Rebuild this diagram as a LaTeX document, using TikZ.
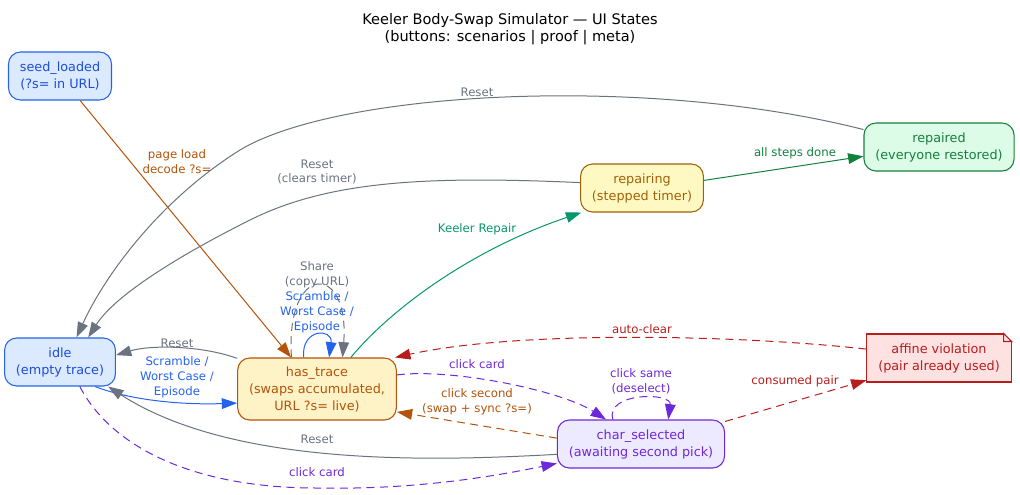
\documentclass[tikz,border=0pt]{standalone}
\usepackage{fontspec}
\setmainfont{DejaVu Sans}
\usepackage{xcolor}
\usetikzlibrary{positioning,arrows.meta,calc}

\definecolor{bluD}{HTML}{1D4ED8}
\definecolor{bluE}{HTML}{2563EB}
\definecolor{bluF}{HTML}{DBEAFE}
\definecolor{ambD}{HTML}{B45309}
\definecolor{ambF}{HTML}{FEF3C7}
\definecolor{yelD}{HTML}{A16207}
\definecolor{yelF}{HTML}{FEF9C3}
\definecolor{grnD}{HTML}{15803D}
\definecolor{grnF}{HTML}{DCFCE7}
\definecolor{emrE}{HTML}{059669}
\definecolor{redD}{HTML}{B91C1C}
\definecolor{redF}{HTML}{FEE2E2}
\definecolor{purD}{HTML}{6D28D9}
\definecolor{purF}{HTML}{EDE9FE}
\definecolor{gryE}{HTML}{6B7280}

\newcommand{\stfont}{\fontsize{9.6}{12.75}\selectfont}
\newcommand{\lbfont}{\fontsize{8.8}{11.2}\selectfont}
\newcommand{\hdfont}{\fontsize{10.9}{13.1}\selectfont}

\begin{document}
\begin{tikzpicture}[
  x=0.75pt, y=-0.75pt,
  every node/.style={font=\stfont},
  st/.style={draw, rounded corners=9pt, line width=0.8pt, align=center,
             inner xsep=8.5pt, inner ysep=4pt, minimum height=36pt},
  stblue/.style={st, draw=bluE, fill=bluF, text=bluD},
  stamb/.style={st, draw=ambD, fill=ambF, text=ambD},
  styel/.style={st, draw=yelD, fill=yelF, text=yelD},
  stgrn/.style={st, draw=grnD, fill=grnF, text=grnD},
  stpur/.style={st, draw=purD, fill=purF, text=purD},
  note/.style={draw=redD, fill=redF, text=redD, line width=0.8pt,
               align=center, inner xsep=8.5pt, minimum height=36pt},
  hdr/.style={font=\hdfont, align=center},
  lab/.style={font=\lbfont, align=center, inner sep=0pt},
  arr/.style={-{Triangle[length=11.5pt,width=8pt]}, line width=0.75pt},
  dsh/.style={dash pattern=on 6pt off 4pt}
]
\useasboundingbox (0,0) rectangle (1020,494);
\node[hdr] (title) at (510,29)
  {Keeler Body-Swap Simulator — UI States\\(buttons: scenarios | proof | meta)};
\node[stblue] (seed)  at (60,76)   {seed\_loaded\\(?s= in URL)};
\node[stblue] (idle)  at (60,362)  {idle\\(empty trace)};
\node[stamb, minimum height=46.5pt] (trace) at (317,389)
  {has\_trace\\(swaps accumulated,\\URL ?s= live)};
\node[styel]  (rpg)   at (642,188) {repairing\\(stepped timer)};
\node[stgrn]  (rpd)   at (939,147) {repaired\\(everyone restored)};
\node[note]   (aff)   at (939,358) {affine violation\\(pair already used)};
\node[stpur]  (sel)   at (641,444) {char\_selected\\(awaiting second pick)};
% folded corner of the note
\fill[white] ([xshift=-6pt,yshift=0.6pt]aff.north east)
  -- ([xshift=0.6pt,yshift=0.6pt]aff.north east)
  -- ([xshift=0.6pt,yshift=-6pt]aff.north east) -- cycle;
\draw[redD, line width=0.8pt] ([xshift=-6pt]aff.north east)
  -- ([yshift=-6pt]aff.north east)
  -- ([xshift=-6pt,yshift=-6pt]aff.north east) -- cycle;
% edges
\draw[arr, ambD] (seed) -- (trace);
\node[lab, text=ambD] (lpage) at (177,162) {page load\\decode ?s=};
\draw[arr, gryE] (rpd.167) .. controls (650,75) and (340,90) .. (240,150)
  .. controls (160,200) and (105,275) .. (idle.56);
\node[lab, text=gryE] (lreset1) at (477,92) {Reset};
\draw[arr, gryE] (rpg.175) .. controls (430,176) and (330,180) .. (250,220)
  .. controls (180,255) and (115,295) .. (idle.41);
\node[lab, text=gryE] (lreset2) at (317,172) {Reset\\(clears timer)};
\draw[arr, emrE] (trace.43) .. controls (390,310) and (470,250) .. (rpg.202);
\node[lab, text=emrE] (lkeel) at (477,229) {Keeler Repair};
\draw[arr, grnD] (rpg.7) -- (rpd.187);
\node[lab, text=grnD] (ldone) at (795,153) {all steps done};
\draw[arr, gryE] (trace.159) .. controls (200,345) and (150,345) .. (idle.7);
\node[lab, text=gryE] (lreset3) at (177,343) {Reset};
\draw[arr, bluE] (idle.-35) .. controls (130,400) and (180,405) .. (trace.190);
\node[lab, text=bluE] (lscr1) at (177,377) {Scramble /\\Worst Case /\\Episode};
\draw[arr, gryE, dsh] (trace.129) .. controls (285,262) and (350,262) .. (trace.51);
\node[lab, text=gryE] (lshare) at (317,275) {Share\\(copy URL)};
\draw[arr, bluE] (trace.113) .. controls (301,328) and (333,328) .. (trace.69);
\node[lab, text=bluE] (lscr2) at (317,312) {Scramble /\\Worst Case /\\Episode};
\draw[arr, purD, dsh] (trace.10) .. controls (450,368) and (560,390) .. (sel.145);
\node[lab, text=purD] (lcard1) at (477,364) {click card};
\draw[arr, ambD, dsh] (sel.176) -- (trace.-16);
\node[lab, text=ambD] (lsecond) at (477,402) {click second\\(swap + sync ?s=)};
\draw[arr, gryE] (sel.187) .. controls (420,462) and (230,465) .. (idle.-27);
\node[lab, text=gryE] (lreset4) at (317,439) {Reset};
\draw[arr, purD, dsh] (idle.-51) .. controls (110,445) and (190,488) .. (317,488)
  .. controls (420,490) and (500,475) .. (sel.193);
\node[lab, text=purD] (lcard2) at (317,472) {click card};
\draw[arr, purD, dsh] (sel.139) .. controls (605,392) and (672,392) .. (sel.42);
\node[lab, text=purD] (lsame) at (641,381) {click same\\(deselect)};
\draw[arr, redD, dsh] (sel.15) -- (aff.197);
\node[lab, text=redD] (lcons) at (795,381) {consumed pair};
\draw[arr, redD, dsh] (aff.173) .. controls (740,335) and (520,330) .. (trace.22);
\node[lab, text=redD] (lauto) at (642,329) {auto-clear};
\end{tikzpicture}
\end{document}
